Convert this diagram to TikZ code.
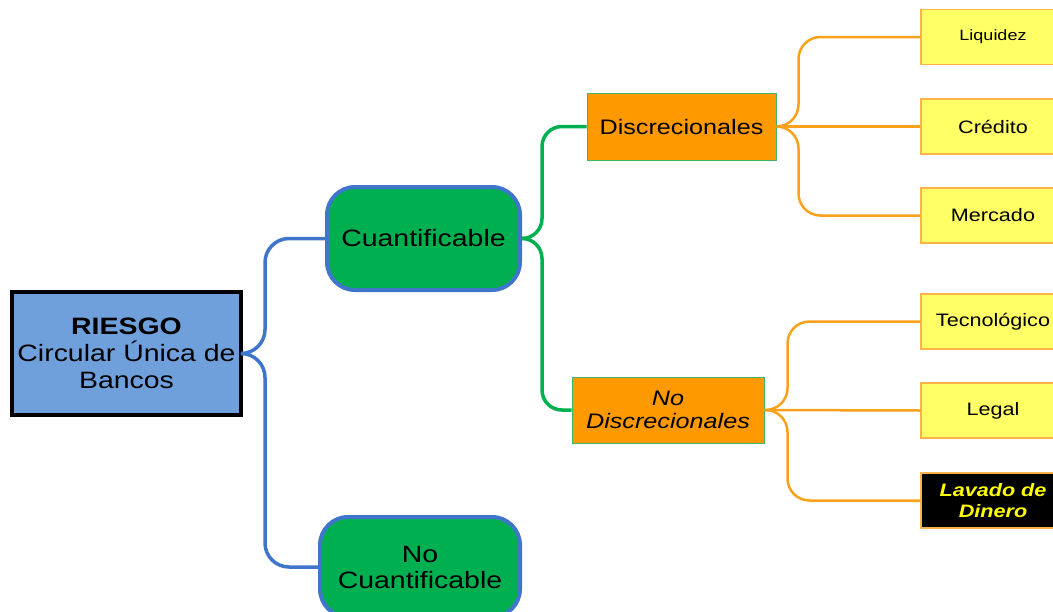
\documentclass[tikz,border=0pt]{standalone}
\usepackage{fontspec}
\setmainfont{Liberation Sans}[FakeStretch=1.2]
\usetikzlibrary{calc}

\definecolor{rootblue}{HTML}{6FA0DC}
\definecolor{linkblue}{HTML}{3F76CB}
\definecolor{leafgreen}{HTML}{00B050}
\definecolor{boxorange}{HTML}{FF9900}
\definecolor{linkorange}{HTML}{F9A11B}
\definecolor{edgegreen}{HTML}{3CB864}
\definecolor{paleyellow}{HTML}{FFFF66}
\definecolor{edgeorange}{HTML}{FFB347}
\definecolor{brightyellow}{HTML}{FFFF00}

\tikzset{
  x=1pt, y=-1pt,
  rootbox/.style={draw=black, line width=4pt, fill=rootblue, minimum width=229pt,
    minimum height=123pt, align=center, inner sep=0pt,
    font=\fontsize{23.7}{27}\selectfont},
  levelone/.style={draw=linkblue, line width=4pt, fill=leafgreen, rounded corners=28pt,
    minimum width=193pt, align=center, inner sep=0pt,
    font=\fontsize{23.7}{26}\selectfont},
  leveltwo/.style={draw=edgegreen, line width=1pt, fill=boxorange, align=center,
    inner sep=0pt, font=\fontsize{21}{23}\selectfont},
  leafbox/.style={draw=edgeorange, line width=1.2pt, fill=paleyellow,
    minimum width=144pt, minimum height=55pt, align=center, inner sep=0pt,
    font=\fontsize{18}{21}\selectfont},
  alertbox/.style={leafbox, fill=black, text=brightyellow,
    font=\fontsize{18}{21}\selectfont\bfseries\itshape},
  bluelink/.style={draw=linkblue, line width=3.5pt, rounded corners=24pt},
  greenlink/.style={draw=leafgreen, line width=3.5pt, rounded corners=20pt},
  orangelink/.style={draw=linkorange, line width=2.5pt, rounded corners=22pt},
}

\begin{document}
\begin{tikzpicture}
\useasboundingbox (0,0) rectangle (1053,611);

% root
\node[rootbox] (root) at (126.5,353.5) {\textbf{RIESGO}\\Circular Única de\\Bancos};

% first level
\node[levelone, minimum height=103pt] (cuant) at (423.5,238.5) {Cuantificable};
\node[levelone, minimum width=200pt, minimum height=100pt] (nocuant) at (420,567) {No\\Cuantificable};

% second level
\node[leveltwo, minimum width=189pt, minimum height=67pt] (disc) at (681.5,126.5) {Discrecionales};
\node[leveltwo, minimum width=192pt, minimum height=66pt, font=\fontsize{21}{23}\selectfont\itshape] (nodisc) at (668,410) {No\\Discrecionales};

% leaves
\node[leafbox, font=\fontsize{15}{18}\selectfont] (liq) at (993,37) {Liquidez};
\node[leafbox] (cred) at (993,126.5) {Crédito};
\node[leafbox] (merc) at (993,215.5) {Mercado};
\node[leafbox] (tec) at (993,321.5) {Tecnológico};
\node[leafbox] (legal) at (993,410.5) {Legal};
\node[alertbox] (lav) at (993,500.5) {Lavado de\\Dinero};

% connectors
\draw[bluelink] (root.east) -- ++(22,0) |- (cuant.west);
\draw[bluelink] (root.east) -- ++(22,0) |- (nocuant.west);

\draw[greenlink] (cuant.east) -- ++(20,0) |- (disc.west);
\draw[greenlink] (cuant.east) -- ++(20,0) |- (nodisc.west);

\draw[orangelink] (disc.east) -- ++(22,0) |- (liq.west);
\draw[orangelink] (disc.east) -- (cred.west);
\draw[orangelink] (disc.east) -- ++(22,0) |- (merc.west);

\draw[orangelink] (nodisc.east) -- ++(23,0) |- (tec.west);
\draw[orangelink] (nodisc.east) -- (legal.west);
\draw[orangelink] (nodisc.east) -- ++(23,0) |- (lav.west);
\end{tikzpicture}
\end{document}
